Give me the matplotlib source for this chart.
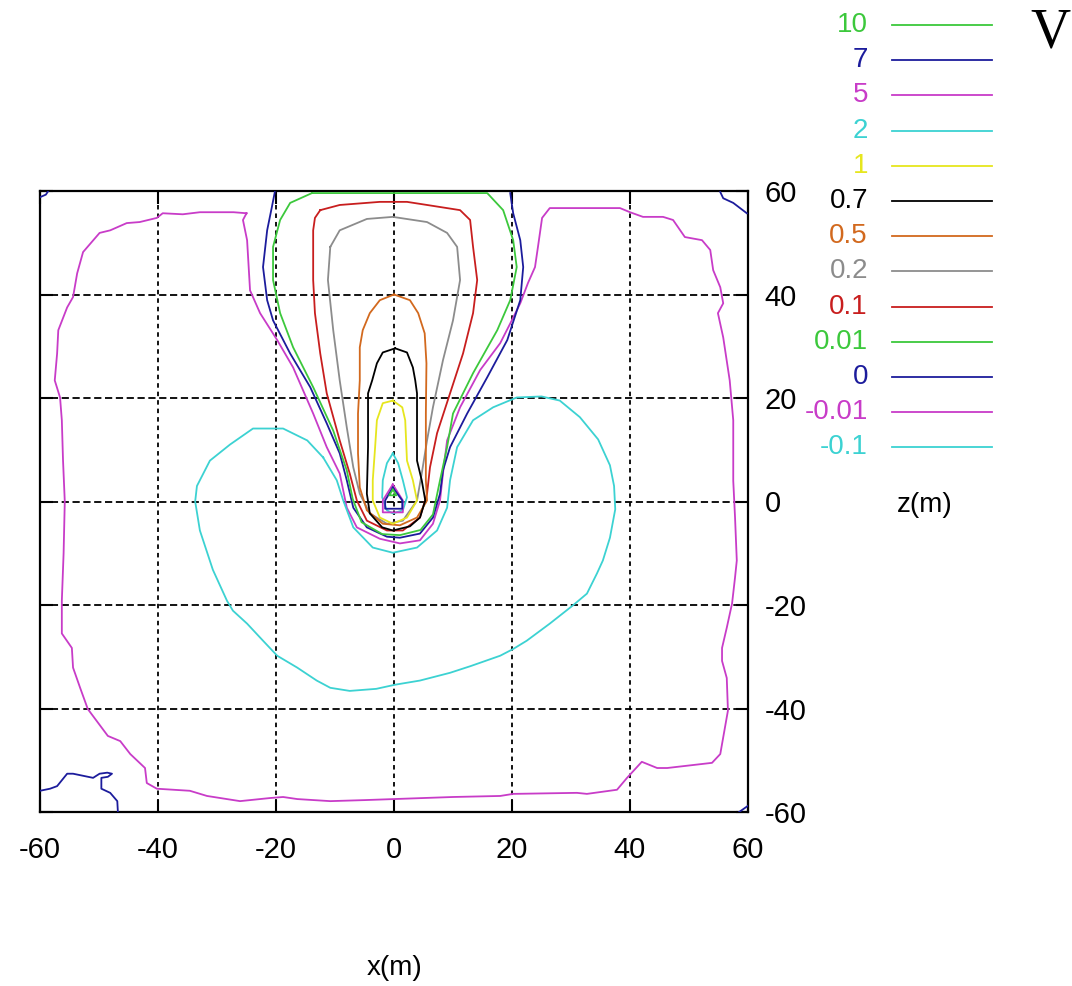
import numpy as np
import matplotlib.pyplot as plt
from matplotlib.lines import Line2D

####################################################################
## Niveaux et couleurs des isolignes
####################################################################

niveaux = ['10', '7', '5', '2', '1', '0.7', '0.5', '0.2', '0.1', '0.01', '0', '-0.01', '-0.1']
couleurs = ['#3cc83c', '#1c1c9c', '#c83cc8', '#3cd2d2', '#e6e61e', '#000000', '#d2691e',
            '#8c8c8c', '#c81e1e', '#3cc83c', '#1c1c9c', '#c83cc8', '#3cd2d2']

graduations = [-60, -40, -20, 0, 20, 40, 60]

####################################################################
## Isolignes (x, y) en metres
####################################################################

iso_10 = [(-0.2, 2.3), (-0.8, 1.2), (0.4, 1.2), (-0.2, 2.3)]

iso_7 = [(-0.2, 2.7), (-1.5, 0.2), (-1.5, -1.4), (1.4, -1.4), (1.4, 0.2), (-0.2, 2.7)]

iso_5 = [(-0.2, 3.3), (-1.9, 0.2), (-1.9, -2.1), (1.5, -2.1), (1.5, 0.2), (-0.2, 3.3)]

iso_2 = [(-0.2, 9.3), (-1.2, 7.4), (-1.9, 4.1), (-2.0, 0.8), (-1.2, -1.7), (-0.2, -2.3),
         (1.5, -1.7), (2.2, 0.8), (1.5, 4.1), (0.7, 7.4), (-0.2, 9.3)]

iso_1 = [(-0.2, 19.5), (-1.9, 19.0), (-2.9, 15.7), (-3.2, 10.5), (-3.6, 4.1), (-3.6, 0.2),
         (-2.4, -3.1), (-0.2, -4.3), (2.2, -3.1), (3.9, 0.2), (3.2, 4.1), (2.2, 7.9),
         (1.9, 15.7), (1.4, 18.2), (-0.2, 19.5)]

iso_07 = [(0.2, 29.6), (-1.9, 28.8), (-2.9, 26.7), (-3.7, 23.4), (-4.4, 20.9), (-4.4, 10.5),
          (-4.6, 1.5), (-4.1, -2.3), (-2.0, -5.0), (-0.2, -5.6), (2.7, -4.8), (4.4, -3.1),
          (5.3, 0.2), (4.7, 4.1), (3.9, 7.9), (3.9, 17.0), (3.9, 20.9), (3.6, 23.4),
          (3.2, 25.9), (2.2, 28.8), (0.2, 29.6)]

iso_05 = [(0.0, 40.0), (-2.4, 38.9), (-4.1, 36.4), (-5.3, 33.1), (-5.8, 29.8), (-5.8, 23.4),
          (-6.1, 17.0), (-6.1, 9.3), (-5.8, 2.7), (-4.6, -1.7), (-1.9, -4.3), (1.0, -4.6),
          (3.9, -3.1), (5.6, 0.2), (5.4, 4.1), (5.4, 9.3), (5.4, 17.0), (5.5, 26.7),
          (5.2, 32.5), (4.1, 36.4), (2.7, 38.9), (0.0, 40.0)]

iso_02 = [(-10.8, 49.2), (-9.2, 52.4), (-4.6, 54.6), (-0.2, 55.0), (5.6, 54.0), (9.0, 51.9),
          (10.7, 49.2), (11.2, 42.8), (10.0, 35.0), (8.3, 27.3), (6.6, 18.2), (5.6, 11.8),
          (4.7, 5.4), (3.9, 0.2), (1.5, -3.7), (-1.2, -4.3), (-4.1, -2.3), (-5.8, 1.5),
          (-6.9, 6.6), (-8.0, 14.3), (-9.2, 23.4), (-10.3, 33.1), (-11.2, 42.8), (-10.8, 49.2)]

iso_01 = [(-12.5, 56.3), (-9.2, 57.3), (-2.4, 57.9), (2.2, 57.9), (5.6, 57.3), (11.2, 56.3),
          (12.9, 54.4), (13.4, 49.2), (14.1, 42.8), (13.4, 36.4), (11.7, 28.6), (9.5, 20.9),
          (7.3, 13.2), (6.1, 6.6), (5.6, 1.5), (4.4, -3.1), (1.5, -5.6), (-1.2, -5.6),
          (-4.6, -3.7), (-6.3, 0.2), (-7.5, 5.4), (-9.2, 11.8), (-11.4, 20.9), (-12.5, 28.6),
          (-13.4, 36.4), (-13.7, 42.8), (-13.7, 52.4), (-13.4, 54.8), (-12.5, 56.3)]

iso_001 = [(-13.9, 59.6), (-17.6, 57.7), (-19.3, 54.4), (-20.5, 49.2), (-20.5, 42.8),
           (-19.3, 36.4), (-17.1, 29.8), (-13.7, 22.1), (-10.3, 13.7), (-8.0, 6.0), (-7.0, 0.5),
           (-5.5, -4.0), (-2.0, -6.3), (1.0, -6.5), (4.5, -5.5), (6.6, -2.5), (7.8, 4.1),
           (9.0, 10.5), (10.0, 17.0), (13.4, 24.8), (17.5, 33.1), (19.7, 38.9), (20.8, 45.3),
           (20.2, 50.5), (18.5, 56.3), (15.8, 59.6), (-13.9, 59.6)]

iso_0 = [(-20.2, 59.8), (-20.7, 56.9), (-21.5, 52.4), (-22.2, 45.3), (-21.5, 38.9), (-20.5, 35.0),
         (-17.6, 28.6), (-14.2, 22.1), (-11.4, 15.1), (-9.2, 9.3), (-8.0, 4.1), (-6.9, -1.2),
         (-4.6, -5.0), (-1.2, -6.8), (1.0, -7.0), (4.4, -6.2), (6.6, -3.1), (7.8, 1.5),
         (8.3, 6.0), (9.5, 10.5), (12.4, 17.0), (15.8, 24.0), (19.2, 31.2), (21.4, 38.9),
         (21.9, 45.3), (21.4, 50.5), (20.2, 55.7), (19.7, 59.6)]

# petits morceaux de l'isoligne 0 dans les coins
iso_0_hg = [(-60.0, 58.8), (-59.0, 59.3), (-58.6, 60.0)]
iso_0_hd = [(55.3, 59.8), (55.8, 58.6), (57.5, 57.7), (59.8, 55.7)]
iso_0_bg = [(-60.0, -55.9), (-58.3, -55.5), (-57.1, -55.0), (-55.4, -52.6), (-54.4, -52.6),
            (-51.0, -53.4), (-49.9, -52.6), (-48.6, -52.4), (-47.8, -52.6), (-48.5, -53.2),
            (-49.6, -53.4), (-49.6, -55.5), (-48.1, -56.3), (-46.9, -57.9), (-46.8, -60.0)]
iso_0_bd = [(58.5, -60.0), (60.0, -58.8)]

iso_m001 = [(-25.0, 55.7), (-27.2, 55.9), (-32.9, 55.9), (-35.8, 55.5), (-39.2, 55.7),
            (-40.2, 54.8), (-43.1, 54.0), (-45.3, 53.8), (-48.1, 52.4), (-49.9, 51.9),
            (-52.7, 48.2), (-53.7, 44.1), (-54.4, 39.5), (-55.4, 37.5), (-56.9, 33.1),
            (-57.1, 28.6), (-57.5, 23.4), (-56.6, 20.1), (-56.3, 15.7), (-56.1, 8.0),
            (-55.8, 0.0), (-56.0, -10.0), (-56.3, -19.2), (-56.3, -25.5), (-54.6, -28.3),
            (-54.4, -32.1), (-53.2, -36.0), (-51.9, -40.1), (-48.5, -45.3), (-46.4, -46.3),
            (-44.7, -48.8), (-42.2, -51.5), (-41.9, -54.4), (-40.2, -55.5), (-34.6, -55.9),
            (-31.7, -56.9), (-26.1, -57.9), (-21.0, -57.3), (-18.8, -57.1), (-16.4, -57.5),
            (-10.8, -57.9), (-5.0, -57.7), (0.0, -57.5), (10.0, -57.1), (18.0, -56.9),
            (20.2, -56.5), (31.0, -56.3), (32.7, -56.5), (37.8, -55.7), (39.5, -53.4),
            (42.0, -50.3), (44.6, -51.5), (46.3, -51.5), (53.9, -50.5), (55.3, -48.8),
            (56.6, -40.4), (56.4, -34.1), (55.6, -30.8), (55.6, -28.3), (56.4, -24.4),
            (57.3, -19.7), (57.8, -14.7), (58.1, -11.4), (57.8, -3.0), (57.5, 4.0),
            (57.5, 15.7), (56.9, 23.4), (55.8, 31.7), (54.9, 36.4), (55.8, 38.3), (55.3, 41.4),
            (54.1, 44.7), (53.6, 48.6), (52.2, 50.5), (49.3, 51.1), (47.3, 54.4), (45.6, 55.0),
            (42.2, 55.0), (40.0, 55.9), (38.3, 56.7), (26.4, 56.7), (25.1, 54.8), (24.4, 49.2),
            (23.9, 45.3), (22.7, 42.2), (21.4, 38.3), (19.7, 34.4), (18.0, 30.6), (14.6, 25.4),
            (11.2, 18.2), (9.0, 11.8), (8.3, 5.4), (7.8, 0.2), (6.6, -4.3), (4.4, -7.5),
            (1.0, -8.1), (-2.4, -7.2), (-6.3, -5.0), (-8.0, -1.2), (-9.2, 5.4), (-11.4, 10.5),
            (-13.7, 17.0), (-17.1, 25.9), (-19.8, 31.2), (-22.7, 36.4), (-24.4, 40.8),
            (-24.9, 50.5), (-25.6, 54.4), (-25.0, 55.7)]

iso_m01 = [(-12.0, 8.5), (-14.7, 11.8), (-18.8, 14.1), (-21.0, 14.1), (-23.9, 14.1),
           (-27.8, 11.0), (-31.2, 7.9), (-33.4, 3.0), (-33.7, 0.0), (-32.9, -5.6), (-30.7, -13.2),
           (-28.3, -19.2), (-27.3, -21.1), (-24.9, -23.6), (-22.2, -26.9), (-19.8, -29.8),
           (-16.4, -32.1), (-13.1, -34.6), (-10.8, -36.0), (-7.5, -36.6), (-3.0, -36.2),
           (0.2, -35.4), (4.4, -34.6), (9.5, -33.1), (13.0, -31.8), (18.0, -29.8), (20.2, -28.5),
           (22.5, -26.9), (26.4, -23.6), (30.3, -20.1), (32.7, -17.8), (34.4, -13.9),
           (35.4, -11.4), (36.6, -7.0), (37.5, -1.5), (37.3, 3.0), (36.6, 7.0), (34.6, 12.0),
           (31.5, 16.3), (28.1, 19.5), (25.0, 20.3), (20.8, 20.1), (16.8, 18.2), (13.4, 15.7),
           (10.7, 10.5), (9.5, 4.1), (9.0, -1.2), (7.3, -5.6), (3.9, -8.9), (-0.2, -9.9),
           (-3.6, -8.9), (-6.9, -5.0), (-8.6, 0.2), (-9.7, 4.1), (-12.0, 8.5)]

isolignes = [
    ('-0.01', [iso_m001]),
    ('-0.1', [iso_m01]),
    ('0', [iso_0, iso_0_hg, iso_0_hd, iso_0_bg, iso_0_bd]),
    ('0.01', [iso_001]),
    ('0.1', [iso_01]),
    ('0.2', [iso_02]),
    ('0.5', [iso_05]),
    ('0.7', [iso_07]),
    ('1', [iso_1]),
    ('2', [iso_2]),
    ('5', [iso_5]),
    ('7', [iso_7]),
    ('10', [iso_10]),
]

####################################################################
## Figure
####################################################################

plt.rcParams['font.family'] = ['Liberation Sans', 'DejaVu Sans']
plt.rcParams['axes.unicode_minus'] = False

L, H = 1072, 986
fig = plt.figure(figsize=(L / 100, H / 100), dpi=100)
ax = fig.add_axes([40 / L, 1 - 812 / H, 708 / L, 621 / H])

couleur_de = dict(zip(niveaux, couleurs))
for niv, chemins in isolignes:
    for pts in chemins:
        p = np.array(pts)
        ax.plot(p[:, 0], p[:, 1], color=couleur_de[niv], lw=1.3, zorder=3)

ax.set_xlim(-60, 60)
ax.set_ylim(-60, 60)
ax.set_xticks(graduations)
ax.set_yticks(graduations)
ax.xaxis.grid(True, color='black', linestyle=(0, (2.5, 2.2)), lw=1.3)
ax.yaxis.grid(True, color='black', linestyle=(0, (4, 2)), lw=1.3)
ax.set_axisbelow(True)
for s in ax.spines.values():
    s.set_linewidth(1.6)

ax.tick_params(direction='in', length=9, width=1.5, top=True, right=True,
               labelleft=False, labelright=True, labelsize=21)
ax.tick_params(axis='x', pad=17)
ax.tick_params(axis='y', pad=12)

# legende a droite, faite a la main
for i, (niv, c) in enumerate(zip(niveaux, couleurs)):
    y = 1 - (25 + i * 35.2) / H
    fig.text(868 / L, y, niv, color=c, fontsize=20, ha='right', va='center')
    fig.add_artist(Line2D([892 / L, 992 / L], [y, y], color=c, lw=1.3,
                          transform=fig.transFigure))

fig.text(1030 / L, 1 - 33 / H, 'V', fontsize=40, family='Liberation Serif',
         ha='left', va='center')
fig.text(925 / L, 1 - 505 / H, 'z(m)', fontsize=20, ha='center', va='center')
fig.text(395 / L, 1 - 968 / H, 'x(m)', fontsize=20, ha='center', va='center')

fig.savefig('out.png', dpi=100)
